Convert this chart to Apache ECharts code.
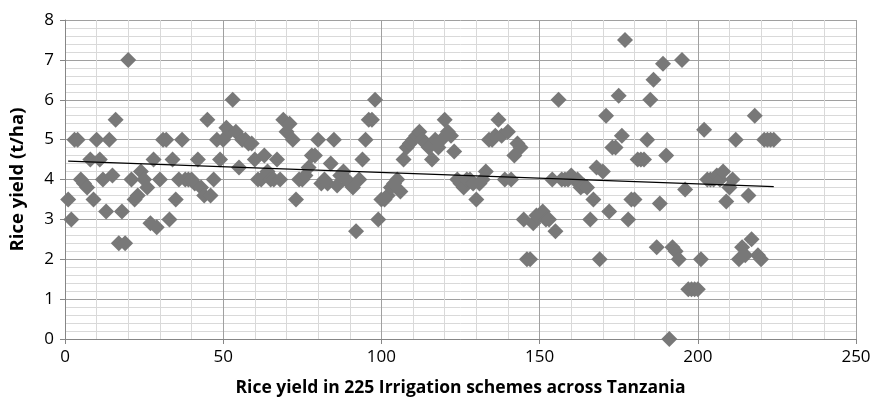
<!DOCTYPE html>
<html>
<head>
<meta charset="utf-8">
<title>Rice yield</title>
<script src="https://cdn.jsdelivr.net/npm/echarts@6/dist/echarts.min.js"></script>
<style>
	html, body { margin:0; padding:0; background:#fff; }
	#chartYield { width:876px; height:403px; }
</style>
</head>
<body>
<div id="chartYield"></div>
<script>
// yield (t/ha) of each irrigation scheme, in scheme order 1..224
var yieldValues = [
	3.5, 3.0, 5.0, 5.0, 4.0, 3.9, 3.8, 4.5, 3.5, 5.0,
	4.5, 4.0, 3.2, 5.0, 4.1, 5.5, 2.4, 3.2, 2.4, 7.0,
	4.0, 3.5, 3.6, 4.2, 4.0, 3.8, 2.9, 4.5, 2.8, 4.0,
	5.0, 5.0, 3.0, 4.5, 3.5, 4.0, 5.0, 4.0, 4.0, 4.0,
	3.9, 4.5, 3.8, 3.6, 5.5, 3.6, 4.0, 5.0, 4.5, 5.0,
	5.3, 5.2, 6.0, 5.2, 4.3, 5.0, 5.0, 4.9, 4.9, 4.5,
	4.0, 4.0, 4.6, 4.2, 4.0, 4.0, 4.5, 4.0, 5.5, 5.2,
	5.4, 5.0, 3.5, 4.0, 4.0, 4.1, 4.3, 4.6, 4.6, 5.0,
	3.9, 4.0, 3.9, 4.4, 5.0, 3.85, 4.1, 4.2, 4.0, 3.9,
	3.8, 2.7, 4.0, 4.5, 5.0, 5.5, 5.5, 6.0, 3.0, 3.5,
	3.5, 3.6, 3.8, 3.9, 4.0, 3.7, 4.5, 4.8, 4.9, 5.0,
	5.1, 5.2, 5.0, 4.9, 4.8, 4.5, 5.0, 4.8, 5.0, 5.5,
	5.2, 5.1, 4.7, 4.0, 3.9, 3.8, 4.0, 4.0, 3.9, 3.5,
	3.9, 4.0, 4.2, 5.0, 5.0, 5.1, 5.5, 5.1, 4.0, 5.2,
	4.0, 4.6, 4.9, 4.8, 3.0, 2.0, 2.0, 2.9, 3.1, 3.1,
	3.2, 3.0, 3.0, 4.0, 2.7, 6.0, 4.0, 4.0, 4.0, 4.1,
	4.0, 4.0, 3.8, 3.85, 3.8, 3.0, 3.5, 4.3, 2.0, 4.2,
	5.6, 3.2, 4.8, 4.8, 6.1, 5.1, 7.5, 3.0, 3.5, 3.5,
	4.5, 4.5, 4.5, 5.0, 6.0, 6.5, 2.3, 3.4, 6.9, 4.6,
	0.0, 2.3, 2.2, 2.0, 7.0, 3.75, 1.25, 1.25, 1.25, 1.25,
	2.0, 5.25, 4.0, 4.0, 4.0, 4.1, 4.0, 4.2, 3.45, 3.8,
	4.0, 5.0, 2.0, 2.3, 2.1, 3.6, 2.5, 5.6, 2.1, 2.0,
	5.0, 5.0, 5.0, 5.0
];
// linear trend line end points
var trendX = [1, 224];
var trendY = [4.46, 3.82];
var xTicks = [0, 50, 100, 150, 200, 250];
var yTicks = [0, 1, 2, 3, 4, 5, 6, 7, 8];

var pointData = [];
for (var i = 0; i < yieldValues.length; i++) {
	pointData.push([i + 1, yieldValues[i]]);
}
var trendData = [];
for (var j = 0; j < trendX.length; j++) {
	trendData.push([trendX[j], trendY[j]]);
}

var myChart = echarts.init(document.getElementById('chartYield'), null, {renderer: 'canvas'});
var fontName = '"Open Sans", "Noto Sans", sans-serif';
var options = {
	animation: false,
	backgroundColor: '#ffffff',
	grid: {
		left: 65,
		right: 20,
		top: 20,
		bottom: 64
	},
	xAxis: {
		type: 'value',
		min: xTicks[0],
		max: xTicks[xTicks.length - 1],
		interval: 50,
		name: 'Rice yield in 225 Irrigation schemes across Tanzania',
		nameLocation: 'middle',
		nameGap: 40,
		nameTextStyle: {
			fontFamily: fontName,
			fontWeight: 'bold',
			fontSize: 17.5,
			color: '#000'
		},
		axisLine: { lineStyle: { color: '#868686', width: 1 } },
		axisTick: { show: true, length: 5, lineStyle: { color: '#868686' } },
		axisLabel: {
			fontFamily: fontName,
			fontSize: 17,
			color: '#000',
			margin: 10
		},
		splitLine: { show: true, lineStyle: { color: '#a0a0a0', width: 1 } },
		minorTick: { show: false, splitNumber: 5 },
		minorSplitLine: { show: true, lineStyle: { color: '#d9d9d9', width: 1 } }
	},
	yAxis: {
		type: 'value',
		min: yTicks[0],
		max: yTicks[yTicks.length - 1],
		interval: 1,
		name: 'Rice yield (t/ha)',
		nameLocation: 'middle',
		nameGap: 38,
		nameTextStyle: {
			fontFamily: fontName,
			fontWeight: 'bold',
			fontSize: 18.5,
			color: '#000'
		},
		axisLine: { show: true, lineStyle: { color: '#868686', width: 1 } },
		axisTick: { show: true, length: 5, lineStyle: { color: '#868686' } },
		axisLabel: {
			fontFamily: fontName,
			fontSize: 17,
			color: '#000',
			margin: 11
		},
		splitLine: { show: true, lineStyle: { color: '#a0a0a0', width: 1 } },
		minorTick: { show: false, splitNumber: 5 },
		minorSplitLine: { show: true, lineStyle: { color: '#d9d9d9', width: 1 } }
	},
	series: [
		{
			name: 'yield',
			type: 'scatter',
			data: pointData,
			symbol: 'diamond',
			symbolSize: [16, 16],
			itemStyle: { color: '#787878', opacity: 1 },
			z: 2
		},
		{
			name: 'trend',
			type: 'line',
			data: trendData,
			symbol: 'none',
			lineStyle: { color: '#000', width: 1.3 },
			z: 3
		}
	]
};
myChart.setOption(options);
</script>
</body>
</html>
